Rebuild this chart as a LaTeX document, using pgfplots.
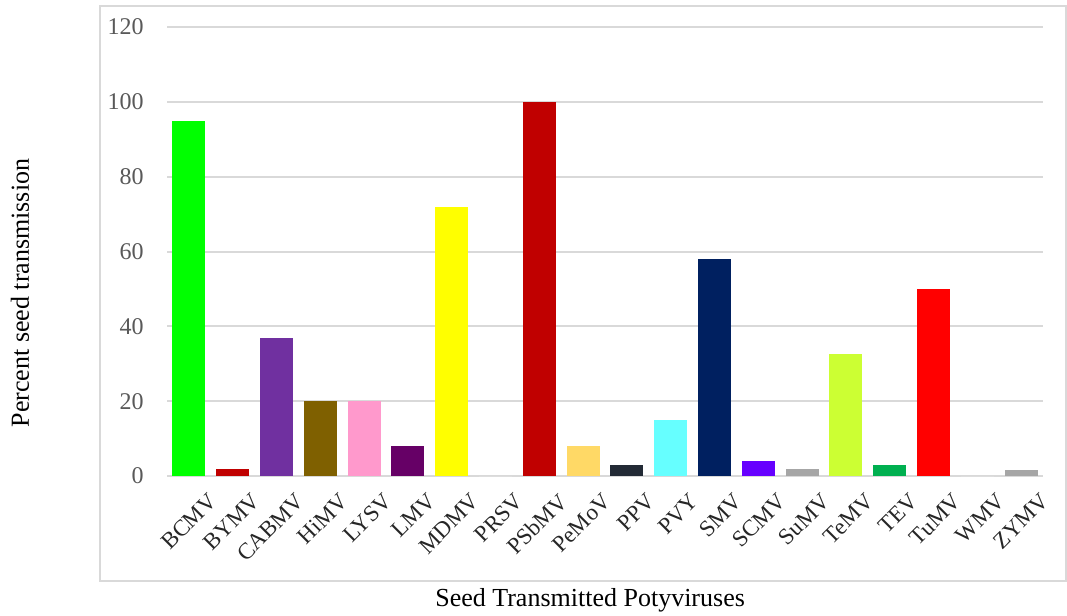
\documentclass[border=0pt]{standalone}
\usepackage{fontspec}
\setmainfont{Liberation Serif}
\usepackage{pgfplots}
\pgfplotsset{compat=1.18}
\usetikzlibrary{calc}

\definecolor{gridgray}{HTML}{D9D9D9}
\definecolor{ticktext}{HTML}{595959}
\definecolor{cBCMV}{HTML}{00FF00}
\definecolor{cBYMV}{HTML}{C00000}
\definecolor{cCABMV}{HTML}{7030A0}
\definecolor{cHiMV}{HTML}{7F6000}
\definecolor{cLYSV}{HTML}{FF99CC}
\definecolor{cLMV}{HTML}{660066}
\definecolor{cMDMV}{HTML}{FFFF00}
\definecolor{cPSbMV}{HTML}{C00000}
\definecolor{cPeMoV}{HTML}{FFD966}
\definecolor{cPPV}{HTML}{222A35}
\definecolor{cPVY}{HTML}{66FFFF}
\definecolor{cSMV}{HTML}{002060}
\definecolor{cSCMV}{HTML}{6600FF}
\definecolor{cSuMV}{HTML}{A6A6A6}
\definecolor{cTeMV}{HTML}{CCFF33}
\definecolor{cTEV}{HTML}{00B050}
\definecolor{cTuMV}{HTML}{FF0000}
\definecolor{cZYMV}{HTML}{A6A6A6}

\begin{document}
\begin{tikzpicture}
\begin{axis}[
  scale only axis,
  width=438pt, height=224.5pt,
  xmin=-0.5, xmax=19.5,
  ymin=0, ymax=120,
  ytick={0,20,...,120},
  xtick={0,...,19},
  xticklabels={BCMV,BYMV,CABMV,HiMV,LYSV,LMV,MDMV,PRSV,PSbMV,PeMoV,PPV,PVY,SMV,SCMV,SuMV,TeMV,TEV,TuMV,WMV,ZYMV},
  axis line style={draw=none},
  major tick length=0pt,
  ymajorgrids,
  grid style={gridgray, line width=1pt},
  /pgf/number format/assume math mode=true,
  yticklabel style={font=\fontsize{12}{14}\selectfont, text=ticktext, anchor=east, inner sep=0pt, xshift=-11.5pt},
  xticklabel style={font=\fontsize{11.5}{13}\selectfont, text=black!85, rotate=45, anchor=north east, inner sep=0pt, yshift=-12pt, xshift=1pt},
  ybar, bar width=16.5pt,
  every axis plot/.append style={draw=none, bar shift=0pt},
  clip=false,
]
\addplot[fill=cBCMV]  coordinates {(0,95)};
\addplot[fill=cBYMV]  coordinates {(1,2)};
\addplot[fill=cCABMV] coordinates {(2,37)};
\addplot[fill=cHiMV]  coordinates {(3,20)};
\addplot[fill=cLYSV]  coordinates {(4,20)};
\addplot[fill=cLMV]   coordinates {(5,8)};
\addplot[fill=cMDMV]  coordinates {(6,72)};
\addplot[fill=white]  coordinates {(7,0)};
\addplot[fill=cPSbMV] coordinates {(8,100)};
\addplot[fill=cPeMoV] coordinates {(9,8)};
\addplot[fill=cPPV]   coordinates {(10,3)};
\addplot[fill=cPVY]   coordinates {(11,15)};
\addplot[fill=cSMV]   coordinates {(12,58)};
\addplot[fill=cSCMV]  coordinates {(13,4)};
\addplot[fill=cSuMV]  coordinates {(14,2)};
\addplot[fill=cTeMV]  coordinates {(15,32.5)};
\addplot[fill=cTEV]   coordinates {(16,3)};
\addplot[fill=cTuMV]  coordinates {(17,50)};
\addplot[fill=white]  coordinates {(18,0)};
\addplot[fill=cZYMV]  coordinates {(19,1.5)};
\coordinate (bl) at (rel axis cs:0,0);
\coordinate (tr) at (rel axis cs:1,1);
\draw[gridgray, line width=1pt] (rel axis cs:-0.0765,-0.2339) rectangle (rel axis cs:1.0263,1.0468);
\node[font=\fontsize{13}{15}\selectfont] at (rel axis cs:0.483,-0.276) {Seed Transmitted Potyviruses};
\node[font=\fontsize{13}{15}\selectfont, rotate=90] at (rel axis cs:-0.1678,0.4076) {Percent seed transmission};
\end{axis}
\pgfresetboundingbox
\path ($(bl)+(-83.5pt,-69.5pt)$) rectangle ($(tr)+(12pt,13.5pt)$);
\end{tikzpicture}
\end{document}
